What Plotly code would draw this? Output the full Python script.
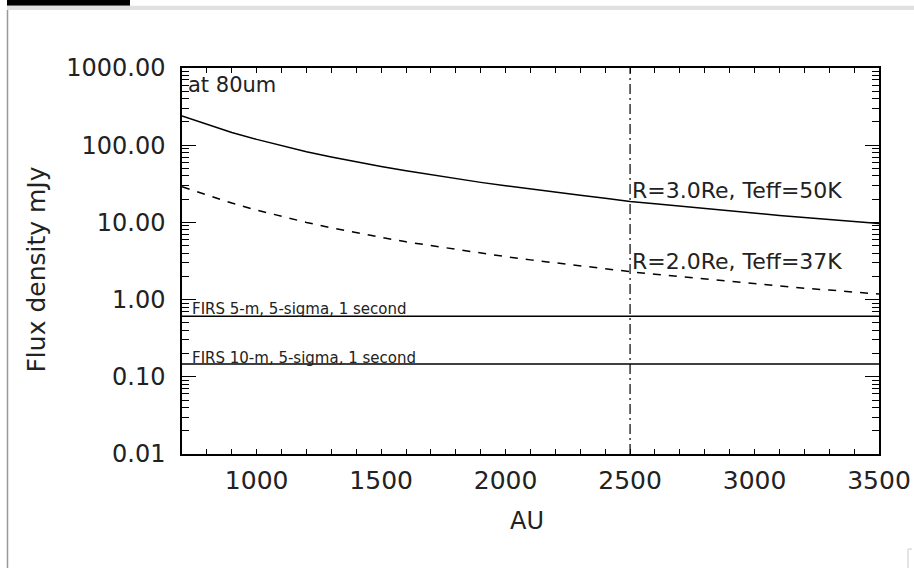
import plotly.graph_objects as go

# ---- data ----
au = [700, 800, 900, 1000, 1100, 1200, 1300, 1400, 1500, 1600, 1700, 1800, 1900,
      2000, 2100, 2200, 2300, 2400, 2500, 2600, 2700, 2800, 2900, 3000, 3100,
      3200, 3300, 3400, 3500]
flux_r3 = [240, 185, 146, 119, 98.5, 82.5, 70.5, 60.8, 53.0, 46.6, 41.3, 36.8, 33.0,
           29.8, 27.0, 24.6, 22.5, 20.6, 18.6, 17.4, 16.2, 15.1, 14.1, 13.2, 12.3,
           11.6, 10.9, 10.3, 9.7]
flux_r2 = [29, 22.5, 17.8, 14.4, 11.9, 10.0, 8.5, 7.3, 6.4, 5.6, 5.0, 4.45, 4.0,
           3.6, 3.27, 2.98, 2.72, 2.5, 2.3, 2.13, 1.98, 1.84, 1.71, 1.6, 1.5,
           1.4, 1.33, 1.25, 1.18]
firs5_level = 0.61
firs10_level = 0.147
marker_au = 2500
x_range = [700, 3500]
y_ticks = [0.01, 0.1, 1, 10, 100, 1000]
y_ticktext = ["0.01", "0.10", "1.00", "10.00", "100.00", "1000.00"]
x_ticks = [1000, 1500, 2000, 2500, 3000, 3500]

FONT = "DejaVu Sans"
TXT = "#222222"

fig = go.Figure()
fig.add_trace(go.Scatter(x=au, y=flux_r3, mode="lines",
                         line=dict(color="black", width=1.5)))
fig.add_trace(go.Scatter(x=au, y=flux_r2, mode="lines",
                         line=dict(color="black", width=1.5, dash="8px,8px")))
fig.add_trace(go.Scatter(x=x_range, y=[firs5_level, firs5_level], mode="lines",
                         line=dict(color="black", width=1.5)))
fig.add_trace(go.Scatter(x=x_range, y=[firs10_level, firs10_level], mode="lines",
                         line=dict(color="black", width=1.5)))
fig.add_trace(go.Scatter(x=[marker_au, marker_au], y=[0.01, 1000], mode="lines",
                         line=dict(color="black", width=1.2, dash="10px,4px,2px,4px")))

minor_y = []
for d in [0.01, 0.1, 1, 10, 100]:
    for k in range(2, 10):
        minor_y.append(d * k)

fig.update_layout(
    width=914, height=568,
    margin=dict(l=182, r=35, t=68, b=114),
    paper_bgcolor="white", plot_bgcolor="white",
    showlegend=False,
    font=dict(family=FONT, color="black"),
    xaxis=dict(range=x_range, tickvals=x_ticks, ticks="inside", ticklen=5,
               tickwidth=1.2, tickcolor="black",
               minor=dict(dtick=100, tick0=0, ticks="inside", ticklen=5,
                          tickwidth=1.2, tickcolor="black"),
               showline=True, linecolor="black", linewidth=1.5, mirror="ticks",
               showgrid=False, zeroline=False, automargin=False,
               tickfont=dict(size=25, family=FONT, color=TXT),
               ticklabelstandoff=3),
    yaxis=dict(type="log", range=[-2, 3], tickvals=y_ticks, ticktext=y_ticktext,
               ticks="inside", ticklen=14, tickwidth=1.2, tickcolor="black",
               minor=dict(tickvals=minor_y, ticks="inside", ticklen=7,
                          tickwidth=1.2, tickcolor="black"),
               showline=True, linecolor="black", linewidth=1.5, mirror="ticks",
               showgrid=False, zeroline=False, automargin=False,
               tickfont=dict(size=24, family=FONT, color=TXT),
               ticklabelstandoff=10),
)

ann = [
    dict(x=-0.2324, y=0.4767, xref="paper", yref="paper", text="Flux density mJy",
         textangle=-90, showarrow=False, font=dict(size=25, color=TXT)),
    dict(x=0.495, y=(454 - 521) / 386, xref="paper", yref="paper", text="AU",
         xanchor="center", yanchor="middle",
         showarrow=False, font=dict(size=24, color=TXT)),
    dict(x=0.006, y=0.955, xref="paper", yref="paper", text="at 80um",
         xanchor="left", yanchor="middle", showarrow=False, font=dict(size=21, color=TXT)),
    dict(x=marker_au, y=1.41, xref="x", yref="y", text="R=3.0Re, Teff=50K",
         xanchor="left", yanchor="middle", showarrow=False, font=dict(size=22, color=TXT)),
    dict(x=marker_au, y=0.49, xref="x", yref="y", text="R=2.0Re, Teff=37K",
         xanchor="left", yanchor="middle", showarrow=False, font=dict(size=22, color=TXT)),
    dict(x=0.012, y=(454 - 309) / 386, xref="paper", yref="paper",
         text="FIRS 5-m, 5-sigma, 1 second", xanchor="left", yanchor="middle",
         showarrow=False, font=dict(size=15, color=TXT)),
    dict(x=0.012, y=(454 - 358) / 386, xref="paper", yref="paper",
         text="FIRS 10-m, 5-sigma, 1 second", xanchor="left", yanchor="middle",
         showarrow=False, font=dict(size=15, color=TXT)),
]
fig.update_layout(annotations=ann)


def px(xp):
    return (xp - 182) / 697


def py(yp):
    return (454 - yp) / 386


shapes = [
    dict(type="rect", xref="paper", yref="paper", x0=px(7), x1=px(130),
         y0=py(5.7), y1=py(0), fillcolor="black", line=dict(width=0)),
    dict(type="rect", xref="paper", yref="paper", x0=px(7), x1=px(914),
         y0=py(10), y1=py(5.7), fillcolor="#e0e0e0", line=dict(width=0)),
    dict(type="line", xref="paper", yref="paper", x0=px(7.5), x1=px(7.5),
         y0=py(10), y1=py(568), line=dict(color="#999999", width=1.5)),
    dict(type="line", xref="paper", yref="paper", x0=px(908), x1=px(908),
         y0=py(549), y1=py(568), line=dict(color="#dddddd", width=1.5)),
    dict(type="line", xref="paper", yref="paper", x0=px(908), x1=px(912),
         y0=py(549), y1=py(549), line=dict(color="#dddddd", width=1.5)),
]
fig.update_layout(shapes=shapes)

fig.write_html("out.html", config={"displayModeBar": False},
               post_script="document.body.style.margin='0px';"
                           "document.body.style.overflow='hidden';")
